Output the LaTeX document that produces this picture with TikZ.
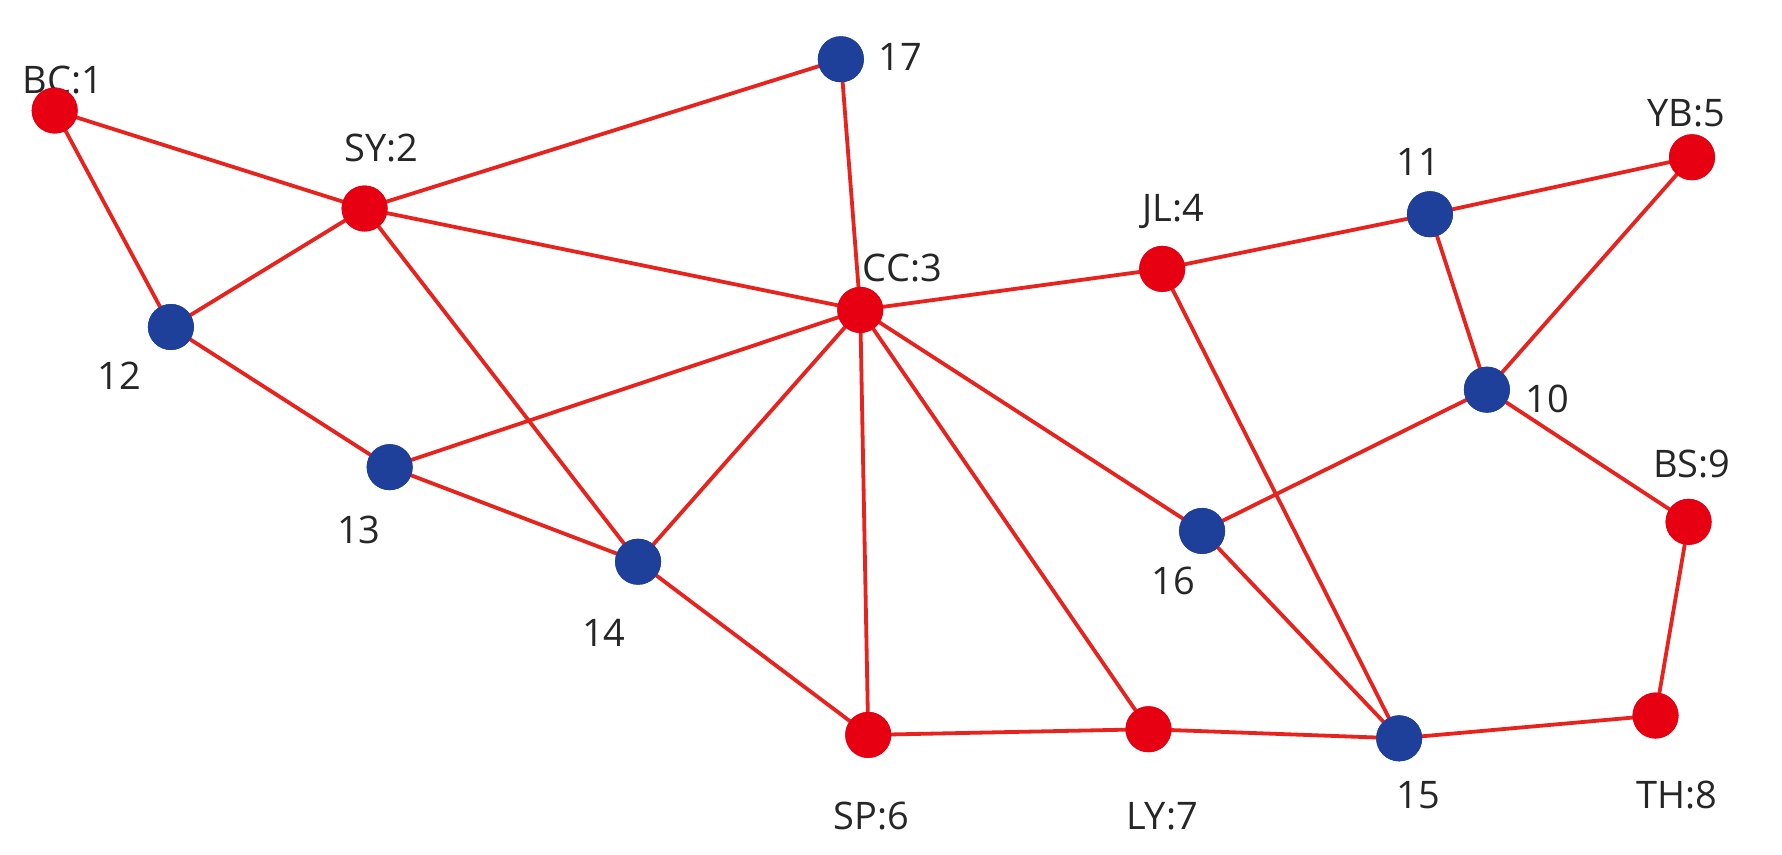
\documentclass[tikz,border=0pt]{standalone}
\usepackage{fontspec}
\setmainfont{Open Sans}
\definecolor{nred}{HTML}{E60012}
\definecolor{nblue}{HTML}{1F409A}
\definecolor{ered}{HTML}{E8221C}
\begin{document}
\begin{tikzpicture}[x=0.57pt,y=-0.57pt,
 r/.style={circle,fill=nred,minimum size=23pt,inner sep=0pt},
 b/.style={circle,fill=nblue,minimum size=23pt,inner sep=0pt},
 lab/.style={font=\fontsize{19}{22}\selectfont,text=black!85},
 e/.style={draw=ered,line width=1.9pt}]
\useasboundingbox (0,0) rectangle (1564,750);
\node[r] (n1) at (48,97) {};
\node[r] (n2) at (320,183) {};
\node[r] (n3) at (755,272) {};
\node[r] (n4) at (1020,236) {};
\node[r] (n5) at (1485,138) {};
\node[r] (n6) at (762,645) {};
\node[r] (n7) at (1008,640) {};
\node[r] (n8) at (1453,628) {};
\node[r] (n9) at (1482,458) {};
\node[b] (n10) at (1305,342) {};
\node[b] (n11) at (1255,188) {};
\node[b] (n12) at (150,287) {};
\node[b] (n13) at (342,410) {};
\node[b] (n14) at (560,493) {};
\node[b] (n15) at (1228,648) {};
\node[b] (n16) at (1055,466) {};
\node[b] (n17) at (738,52) {};
\node[lab] (l1) at (55,70) {BC:1};
\node[lab] (l2) at (335,130) {SY:2};
\node[lab] (l3) at (792,235) {CC:3};
\node[lab] (l4) at (1030,186) {JL:4};
\node[lab] (l5) at (1480,99) {YB:5};
\node[lab] (l6) at (765,716) {SP:6};
\node[lab] (l7) at (1020,716) {LY:7};
\node[lab] (l8) at (1472,698) {TH:8};
\node[lab] (l9) at (1485,407) {BS:9};
\node[lab] (l10) at (1358,350) {10};
\node[lab] (l11) at (1245,142) {11};
\node[lab] (l12) at (105,330) {12};
\node[lab] (l13) at (315,465) {13};
\node[lab] (l14) at (530,555) {14};
\node[lab] (l15) at (1245,698) {15};
\node[lab] (l16) at (1030,510) {16};
\node[lab] (l17) at (790,50) {17};
\foreach \a/\b in {n1/n2,n1/n12,n2/n17,n2/n3,n2/n12,n2/n14,n17/n3,n3/n4,n3/n13,n3/n14,n3/n6,n3/n7,n3/n16,n12/n13,n13/n14,n14/n6,n6/n7,n7/n15,n4/n11,n4/n15,n11/n5,n11/n10,n5/n10,n10/n16,n10/n9,n9/n8,n8/n15,n16/n15}
  \draw[e] (\a.center) -- (\b.center);
\foreach \n/\s in {n1/r,n2/r,n3/r,n4/r,n5/r,n6/r,n7/r,n8/r,n9/r,n10/b,n11/b,n12/b,n13/b,n14/b,n15/b,n16/b,n17/b}
  \node[\s] at (\n) {};
\end{tikzpicture}
\end{document}
